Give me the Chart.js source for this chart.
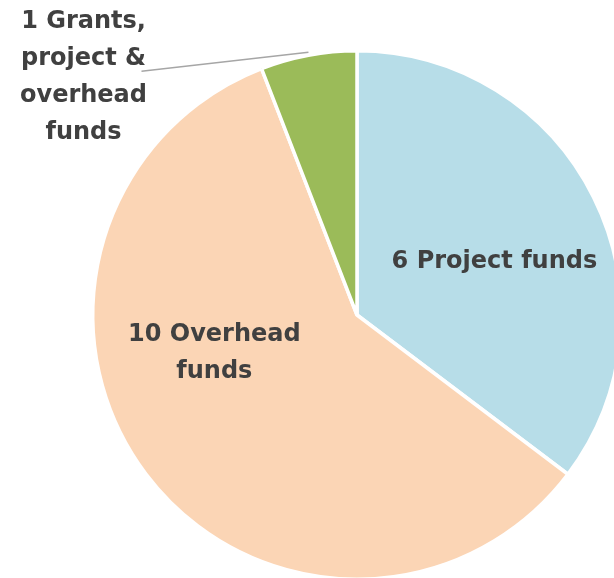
<!DOCTYPE html>
<html>
<head>
<meta charset="utf-8">
<script src="https://cdn.jsdelivr.net/npm/chart.js@4"></script>
<style>
  html, body { margin: 0; padding: 0; background: #fff; }
  body { width: 614px; height: 578px; overflow: hidden; position: relative; }
  #wrap { position: absolute; left: 0; top: 0; width: 714px; height: 630px; }
</style>
</head>
<body>
<div id="wrap"><canvas id="chart-funds"></canvas></div>
<script>
  const categories = ['Project funds', 'Overhead funds', 'Grants, project & overhead funds'];
  const values = [6, 10, 1];
  const labelLines = [
    ['6 Project funds'],
    ['10 Overhead', 'funds'],
    ['1 Grants,', 'project &', 'overhead', 'funds'],
  ];
  const COLORS = ['#b7dde8', '#fbd5b5', '#9bbb59'];

  // label placement relative to the pie centre, in units of radius
  const LABEL_POS = [
    { x: 0.52, y: -0.20, leader: false },
    { x: -0.54, y: 0.145, leader: false },
    { x: -1.035, y: -0.90, leader: true },
  ];

  const sliceLabels = {
    id: 'sliceLabels',
    afterDatasetsDraw(chart) {
      const ctx = chart.ctx;
      const arcs = chart.getDatasetMeta(0).data;
      if (!arcs.length) return;
      const cx = arcs[0].x, cy = arcs[0].y, r = arcs[0].outerRadius;
      const lh = 37;
      ctx.save();
      ctx.font = 'bold 24px "DejaVu Sans", sans-serif';
      ctx.fillStyle = '#404040';
      ctx.textAlign = 'center';
      ctx.textBaseline = 'middle';
      arcs.forEach((arc, i) => {
        const p = LABEL_POS[i];
        const lx = cx + p.x * r, ly = cy + p.y * r;
        const lines = labelLines[i];
        if (p.leader) {
          const mid = (arc.startAngle + arc.endAngle) / 2;
          ctx.beginPath();
          ctx.strokeStyle = '#a6a6a6';
          ctx.lineWidth = 1.5;
          ctx.moveTo(cx + Math.cos(mid) * r, cy + Math.sin(mid) * r - 3);
          ctx.lineTo(lx + 58, ly - 6);
          ctx.stroke();
        }
        lines.forEach((t, k) => {
          ctx.fillText(t, lx, ly + (k - (lines.length - 1) / 2) * lh);
        });
      });
      ctx.restore();
    },
  };

  new Chart(document.getElementById('chart-funds'), {
    type: 'pie',
    data: {
      labels: categories,
      datasets: [{
        data: values,
        backgroundColor: COLORS,
        borderColor: '#ffffff',
        borderWidth: 3.5,
        hoverOffset: 0,
      }],
    },
    options: {
      responsive: true,
      maintainAspectRatio: false,
      animation: false,
      layout: { padding: { left: 91, right: 91, top: 49, bottom: 49 } },
      plugins: { legend: { display: false }, tooltip: { enabled: false } },
    },
    plugins: [sliceLabels],
  });
</script>
</body>
</html>
